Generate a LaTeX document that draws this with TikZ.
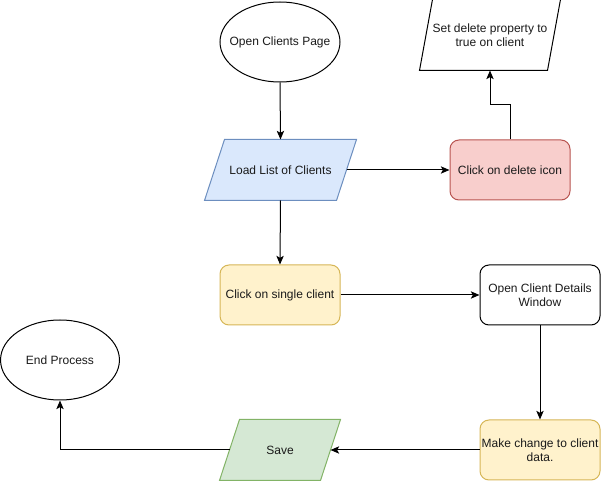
\documentclass[tikz,border=0pt]{standalone}
\usepackage{fontspec}
\setmainfont{Liberation Sans}
\usetikzlibrary{arrows.meta,calc,backgrounds}

\definecolor{bluefill}{HTML}{DAE8FC}\definecolor{bluedraw}{HTML}{6C8EBF}
\definecolor{redfill}{HTML}{F8CECC}\definecolor{reddraw}{HTML}{B85450}
\definecolor{yelfill}{HTML}{FFF2CC}\definecolor{yeldraw}{HTML}{D6B656}
\definecolor{grnfill}{HTML}{D5E8D4}\definecolor{grndraw}{HTML}{82B366}
\definecolor{txt}{HTML}{1A1A1A}

\tikzset{
  base/.style={line width=0.75pt, text=txt, align=center, inner sep=1pt},
  holder/.style={base, rectangle, inner sep=0pt},
  procbox/.style={base, rectangle, rounded corners=6.75pt, minimum width=90pt, minimum height=45pt},
  outline/.style={line width=0.75pt},
  flow/.style={line width=0.75pt, -{Stealth[length=6.5pt,width=5.5pt,inset=1.5pt]}}
}

\begin{document}
\begin{tikzpicture}[x=0.75pt, y=-0.75pt, font=\fontsize{9}{10.5}\selectfont]
  \useasboundingbox (0,0) rectangle (601,481);

  % terminals (text holders; ellipses drawn behind)
  \node[holder, minimum width=90pt, minimum height=60pt] (ocp) at (280,42) {Open Clients Page};
  \node[holder, minimum width=90pt, minimum height=60pt] (endp) at (60,360) {End Process};

  % processes
  \node[procbox, draw=reddraw, fill=redfill] (cdi) at (510,170) {Click on delete icon};
  \node[procbox, draw=yeldraw, fill=yelfill] (ccs) at (280,295) {Click on single client};
  \node[procbox, draw=black, fill=white] (ocd) at (540,295) {Open Client Details\\Window};
  \node[procbox, draw=yeldraw, fill=yelfill] (mcd) at (540,450) {Make change to client\\data.};

  % input/output boxes (text holders; outlines drawn behind)
  \node[holder, minimum width=113.25pt, minimum height=45pt] (llc) at (280.5,170) {Load List of Clients};
  \node[holder, minimum width=105pt, minimum height=52.5pt] (sdp) at (490,35) {Set delete property to\\true on client};
  \node[holder, minimum width=90pt, minimum height=45pt] (save) at (280,450) {Save};

  \begin{scope}[on background layer]
    \draw[outline, fill=white] (ocp.center) ellipse [x radius=45pt, y radius=30pt];
    \draw[outline, fill=white] (endp.center) ellipse [x radius=44.6pt, y radius=30pt];
    \draw[outline, draw=bluedraw, fill=bluefill]
      ($(llc.north west)+(20,0)$) -- (llc.north east) -- ($(llc.south east)+(-20,0)$) -- (llc.south west) -- cycle;
    \draw[outline, draw=black, fill=white]
      ($(sdp.north west)+(13,0)$) -- (sdp.north east) -- ($(sdp.south east)+(-13,0)$) -- (sdp.south west) -- cycle;
    \draw[outline, draw=grndraw, fill=grnfill]
      ($(save.north west)+(20,0)$) -- (save.north east) -- ($(save.south east)+(-20,0)$) -- (save.south west) -- cycle;
  \end{scope}

  % connectors
  \draw[flow] (ocp.south) -- (llc.north);
  \draw[flow] ($(llc.east)+(-10,0)$) -- (cdi.west);
  \draw[flow] (cdi.north) -- ++(0,-35) -| (sdp.south);
  \draw[flow] (llc.south) -- (ccs.north);
  \draw[flow] (ccs.east) -- (ocd.west);
  \draw[flow] (ocd.south) -- (mcd.north);
  \draw[flow] (mcd.west) -- ($(save.east)+(-10,0)$);
  \draw[flow] ($(save.west)+(10,0)$) -| (endp.south);
\end{tikzpicture}
\end{document}
